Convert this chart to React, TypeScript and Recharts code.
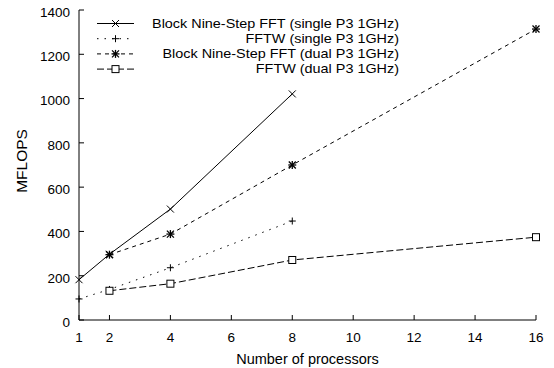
import React from "react";
import {
  LineChart,
  Line,
  XAxis,
  YAxis,
  Legend,
} from "recharts";

const processors = [1, 2, 4, 8, 16];
const blockSingle = [182, 297, 501, 1021, null];
const fftwSingle = [95, 138, 236, 447, null];
const blockDual = [null, 295, 388, 700, 1314];
const fftwDual = [null, 132, 164, 271, 374];

const xTicks = [1, 2, 4, 6, 8, 10, 12, 14, 16];
const yTicks = [0, 200, 400, 600, 800, 1000, 1200, 1400];

const FONT = "'Liberation Sans', Arial, Helvetica, sans-serif";

const data = processors.map((p, i) => ({
  procs: p,
  blockSingle: blockSingle[i],
  fftwSingle: fftwSingle[i],
  blockDual: blockDual[i],
  fftwDual: fftwDual[i],
}));

type Shape = "x" | "plus" | "star" | "square";

function Marker({ shape, cx, cy }: { shape: Shape; cx: number; cy: number }) {
  const r = 3.5;
  const st = { stroke: "#000", strokeWidth: 1 };
  if (shape === "x")
    return (
      <g>
        <line x1={cx - r} y1={cy - r} x2={cx + r} y2={cy + r} {...st} />
        <line x1={cx - r} y1={cy + r} x2={cx + r} y2={cy - r} {...st} />
      </g>
    );
  if (shape === "plus")
    return (
      <g>
        <line x1={cx - r} y1={cy} x2={cx + r} y2={cy} {...st} />
        <line x1={cx} y1={cy - r} x2={cx} y2={cy + r} {...st} />
      </g>
    );
  if (shape === "star")
    return (
      <g>
        <line x1={cx - r} y1={cy - r} x2={cx + r} y2={cy + r} stroke="#000" strokeWidth={1.3} />
        <line x1={cx - r} y1={cy + r} x2={cx + r} y2={cy - r} stroke="#000" strokeWidth={1.3} />
        <line x1={cx - r - 0.5} y1={cy} x2={cx + r + 0.5} y2={cy} stroke="#000" strokeWidth={1.3} />
        <line x1={cx} y1={cy - r - 0.5} x2={cx} y2={cy + r + 0.5} stroke="#000" strokeWidth={1.3} />
      </g>
    );
  return (
    <rect x={cx - r} y={cy - r} width={2 * r} height={2 * r} fill="#fff" stroke="#000" strokeWidth={1} />
  );
}

const dotOf = (shape: Shape) => (props: any) => {
  const { cx, cy, index, value } = props;
  if (value == null || cx == null || cy == null) return <g key={`n-${shape}-${index}`} />;
  return (
    <g key={`${shape}-${index}`}>
      <Marker shape={shape} cx={cx} cy={cy} />
    </g>
  );
};

const series = [
  { key: "blockSingle", name: "Block Nine-Step FFT (single P3 1GHz)", dash: undefined, shape: "x" as Shape },
  { key: "fftwSingle", name: "FFTW (single P3 1GHz)", dash: "1.5 6", shape: "plus" as Shape },
  { key: "blockDual", name: "Block Nine-Step FFT (dual P3 1GHz)", dash: "4 4", shape: "star" as Shape },
  { key: "fftwDual", name: "FFTW (dual P3 1GHz)", dash: "7 3", shape: "square" as Shape },
];

function LegendBox() {
  return (
    <svg width={320} height={64} style={{ display: "block" }}>
      {series.map((s, i) => {
        const y = 9.5 + i * 15.2;
        return (
          <g key={s.key}>
            <line x1={7} x2={44} y1={y} y2={y} stroke="#000" strokeWidth={1} strokeDasharray={s.dash} />
            <Marker shape={s.shape} cx={25.5} cy={y} />
            <g transform={`translate(309 ${y + 4.3}) scale(1.2 1)`}>
              <text x={0} y={0} textAnchor="end" fontSize={12} fontFamily={FONT} fill="#000">
                {s.name}
              </text>
            </g>
          </g>
        );
      })}
    </svg>
  );
}

const YLabel = (props: any) => {
  const cx = 21;
  const cy = 161;
  return (
    <text
      x={cx}
      y={cy}
      transform={`rotate(-90 ${cx} ${cy})`}
      textAnchor="middle"
      dominantBaseline="central"
      fontSize={15.5}
      fontFamily={FONT}
      fill="#000"
    >
      MFLOPS
    </text>
  );
};

export default function App() {
  const tickStyle = { fill: "#000", fontSize: 13.5, fontFamily: FONT };
  return (
    <div style={{ position: "absolute", left: 0, top: 0, background: "#fff" }}>
      <LineChart
        width={554}
        height={368}
        data={data}
        margin={{ top: 10, right: 18, left: 0, bottom: 0 }}
      >
        <XAxis
          dataKey="procs"
          type="number"
          domain={[1, 16]}
          ticks={xTicks}
          interval={0}
          height={48}
          tickSize={-5}
          tickMargin={17}
          tick={tickStyle}
          axisLine={{ stroke: "#000" }}
          tickLine={{ stroke: "#000" }}
          label={{
            value: "Number of processors",
            position: "insideBottom",
            offset: 4,
            fill: "#000",
            fontSize: 14.5,
            fontFamily: FONT,
          }}
        />
        <XAxis
          xAxisId="top"
          orientation="top"
          dataKey="procs"
          type="number"
          domain={[1, 16]}
          ticks={xTicks}
          interval={0}
          height={0}
          tickSize={-5}
          tick={false}
          axisLine={{ stroke: "#000" }}
          tickLine={{ stroke: "#000" }}
        />
        <YAxis
          type="number"
          domain={[0, 1400]}
          ticks={yTicks}
          interval={0}
          width={79}
          tickSize={-5}
          tickMargin={14}
          tick={{ ...tickStyle, dy: 2 }}
          axisLine={{ stroke: "#000" }}
          tickLine={{ stroke: "#000" }}
          label={<YLabel />}
        />
        <YAxis
          yAxisId="right"
          orientation="right"
          type="number"
          domain={[0, 1400]}
          ticks={yTicks}
          interval={0}
          width={0}
          tickSize={-5}
          tick={false}
          axisLine={{ stroke: "#000" }}
          tickLine={{ stroke: "#000" }}
        />
        <Legend
          layout="vertical"
          verticalAlign="middle"
          align="center"
          wrapperStyle={{ position: "absolute", left: 90, top: 14, width: 320, height: 64 }}
          content={() => <LegendBox />}
        />
        {series.map((s) => (
          <Line
            key={s.key}
            dataKey={s.key}
            name={s.name}
            type="linear"
            stroke="#000"
            strokeWidth={1}
            strokeDasharray={s.dash}
            connectNulls
            dot={dotOf(s.shape)}
            activeDot={false}
            isAnimationActive={false}
          />
        ))}
      </LineChart>
    </div>
  );
}
